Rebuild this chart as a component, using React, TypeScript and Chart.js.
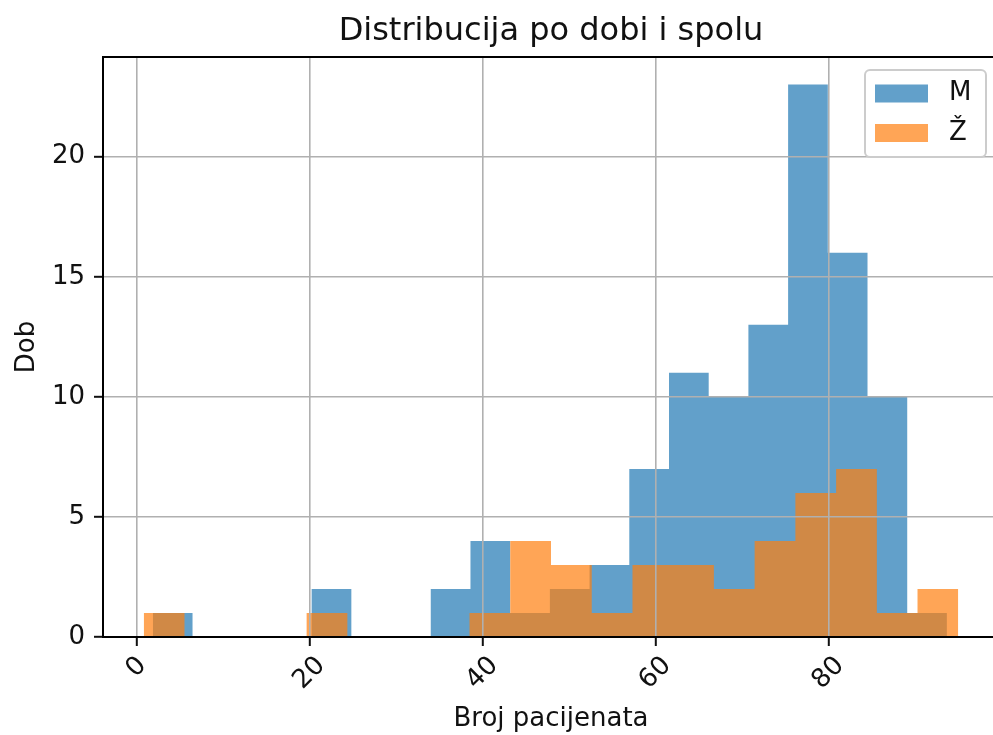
import { useEffect, useRef } from 'react';
import { Chart, registerables } from 'chart.js';

Chart.register(...registerables);

// ---- data ----
const chartTitle = 'Distribucija po dobi i spolu';
const xAxisLabel = 'Broj pacijenata';
const yAxisLabel = 'Dob';
const seriesLabels = ['M', 'Ž'];

// histogram bin edges (21 each) and counts (20 each)
const mEdges = [1.89, 6.48, 11.07, 15.66, 20.25, 24.84, 29.43, 34.02, 38.61, 43.2, 47.79, 52.38, 56.97, 61.56, 66.15, 70.74, 75.33, 79.92, 84.51, 89.1, 93.69];
const mCounts = [1, 0, 0, 0, 2, 0, 0, 2, 4, 1, 2, 3, 7, 11, 10, 13, 23, 16, 10, 1];
const zEdges = [0.84, 5.55, 10.26, 14.96, 19.67, 24.38, 29.09, 33.8, 38.5, 43.21, 47.92, 52.63, 57.34, 62.05, 66.75, 71.46, 76.17, 80.88, 85.59, 90.29, 95.0];
const zCounts = [1, 0, 0, 0, 1, 0, 0, 0, 1, 4, 3, 1, 3, 3, 2, 4, 6, 7, 1, 2];

const xTicks = [0, 20, 40, 60, 80];
const xTickLabels = ['0', '20', '40', '60', '80'];
const yTicks = [0, 5, 10, 15, 20];
const xLimits = [-3.87, 99.71];
const yLimits = [0, 24.15];
const seriesColors = ['rgba(31,119,180,0.7)', 'rgba(255,127,14,0.7)'];

const FONT = "'DejaVu Sans', sans-serif";
const TEXT = '#111111';

function toSteps(edges: number[], counts: number[]) {
  const pts = counts.map((c, i) => ({ x: edges[i], y: c }));
  pts.push({ x: edges[edges.length - 1], y: counts[counts.length - 1] });
  return pts;
}

function roundRectPath(ctx: CanvasRenderingContext2D, x: number, y: number, w: number, h: number, r: number) {
  ctx.beginPath();
  ctx.moveTo(x + r, y);
  ctx.lineTo(x + w - r, y);
  ctx.arcTo(x + w, y, x + w, y + r, r);
  ctx.lineTo(x + w, y + h - r);
  ctx.arcTo(x + w, y + h, x + w - r, y + h, r);
  ctx.lineTo(x + r, y + h);
  ctx.arcTo(x, y + h, x, y + h - r, r);
  ctx.lineTo(x, y + r);
  ctx.arcTo(x, y, x + r, y, r);
  ctx.closePath();
}

const spinePlugin = {
  id: 'spines',
  afterDraw(chart: any) {
    const { ctx, chartArea } = chart;
    ctx.save();
    ctx.strokeStyle = '#000';
    ctx.lineWidth = 2;
    ctx.strokeRect(chartArea.left, chartArea.top, chartArea.right - chartArea.left, chartArea.bottom - chartArea.top);
    ctx.restore();
  },
};

const xLabelPlugin = {
  id: 'rotatedXLabels',
  afterDraw(chart: any) {
    const { ctx, chartArea } = chart;
    const xs = chart.scales.x;
    ctx.save();
    ctx.font = `26px ${FONT}`;
    ctx.fillStyle = TEXT;
    ctx.textAlign = 'center';
    ctx.textBaseline = 'middle';
    xTicks.forEach((v, i) => {
      const label = xTickLabels[i];
      const px = xs.getPixelForValue(v);
      const w = ctx.measureText(label).width;
      const cy = chartArea.bottom + 16 + ((w + 24) * Math.SQRT1_2) / 2;
      ctx.save();
      ctx.translate(px, cy);
      ctx.rotate(-Math.PI / 4);
      ctx.fillText(label, 0, 0);
      ctx.restore();
    });
    ctx.restore();
  },
};

const legendPlugin = {
  id: 'innerLegend',
  afterDraw(chart: any) {
    const { ctx, chartArea } = chart;
    const R = chartArea.right;
    const T = chartArea.top;
    ctx.save();
    roundRectPath(ctx, R - 134, T + 13, 121, 87, 5);
    ctx.fillStyle = 'rgba(255,255,255,0.8)';
    ctx.fill();
    ctx.strokeStyle = '#cccccc';
    ctx.lineWidth = 2;
    ctx.stroke();
    ctx.font = `26px ${FONT}`;
    ctx.textAlign = 'left';
    ctx.textBaseline = 'middle';
    chart.data.datasets.forEach((ds: any, i: number) => {
      const cy = T + 36.5 + i * 39.5;
      ctx.fillStyle = ds.backgroundColor;
      ctx.fillRect(R - 124, cy - 9, 53, 18);
      ctx.fillStyle = TEXT;
      ctx.fillText(ds.label, R - 50, cy);
    });
    ctx.restore();
  },
};

export default function App() {
  const ref = useRef<HTMLCanvasElement>(null);

  useEffect(() => {
    if (!ref.current) return;
    const gridOpts = {
      z: 1,
      color: '#b0b0b0',
      lineWidth: 1.6,
      drawTicks: true,
      tickLength: 9,
      tickColor: '#111',
      tickWidth: 2,
    };
    const chart = new Chart(ref.current, {
      type: 'line',
      data: {
        datasets: [
          {
            label: seriesLabels[0],
            data: toSteps(mEdges, mCounts),
            stepped: 'before',
            fill: 'origin',
            backgroundColor: seriesColors[0],
            borderColor: 'rgba(0,0,0,0)',
            borderWidth: 0,
            pointRadius: 0,
            pointHitRadius: 0,
            order: 2,
          },
          {
            label: seriesLabels[1],
            data: toSteps(zEdges, zCounts),
            stepped: 'before',
            fill: 'origin',
            backgroundColor: seriesColors[1],
            borderColor: 'rgba(0,0,0,0)',
            borderWidth: 0,
            pointRadius: 0,
            pointHitRadius: 0,
            order: 1,
          },
        ],
      },
      options: {
        responsive: false,
        animation: false,
        devicePixelRatio: 1,
        layout: { padding: 0 },
        events: [],
        plugins: {
          legend: { display: false },
          tooltip: { enabled: false },
          title: {
            display: true,
            text: chartTitle,
            fullSize: false,
            color: TEXT,
            font: { family: FONT, size: 32, weight: 'normal', lineHeight: 1.2 },
            padding: { top: 12.8, bottom: 5.8 },
          },
        },
        scales: {
          x: {
            type: 'linear',
            min: xLimits[0],
            max: xLimits[1],
            afterBuildTicks: (s: any) => {
              s.ticks = xTicks.map((v) => ({ value: v }));
            },
            afterFit: (s: any) => {
              s.height = 98;
            },
            ticks: { display: false },
            grid: gridOpts,
            border: { display: false },
            title: {
              display: true,
              text: xAxisLabel,
              color: TEXT,
              font: { family: FONT, size: 26, lineHeight: 1.2 },
              padding: { top: 0, bottom: 0 },
            },
          },
          y: {
            type: 'linear',
            min: yLimits[0],
            max: yLimits[1],
            afterBuildTicks: (s: any) => {
              s.ticks = yTicks.map((v) => ({ value: v }));
            },
            afterFit: (s: any) => {
              s.width = 103;
            },
            ticks: {
              color: TEXT,
              padding: 9,
              font: { family: FONT, size: 26 },
            },
            grid: gridOpts,
            border: { display: false },
            title: {
              display: true,
              text: yAxisLabel,
              color: TEXT,
              font: { family: FONT, size: 26, lineHeight: 1.2 },
              padding: { top: 11.4, bottom: 0 },
            },
          },
        },
      } as any,
      plugins: [spinePlugin, xLabelPlugin, legendPlugin],
    });
    return () => chart.destroy();
  }, []);

  return (
    <div
      style={{
        position: 'fixed',
        left: 0,
        top: 0,
        width: 993,
        height: 735,
        overflow: 'hidden',
        background: '#ffffff',
      }}
    >
      <canvas ref={ref} width={999} height={735} style={{ display: 'block', width: 999, height: 735 }} />
    </div>
  );
}
